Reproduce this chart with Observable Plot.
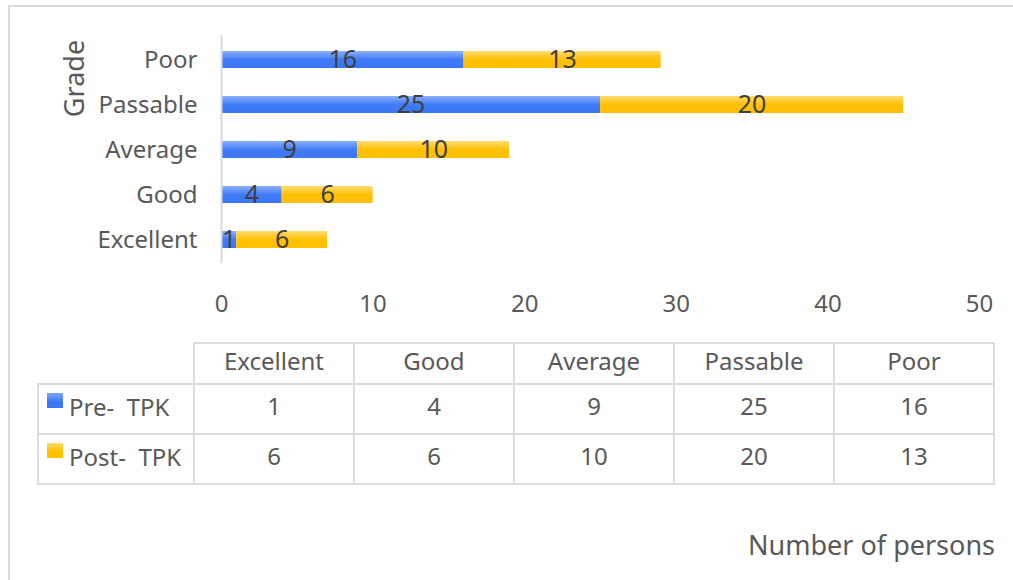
<!DOCTYPE html>
<html>
<head>
<meta charset="utf-8">
<script src="https://cdn.jsdelivr.net/npm/d3@7"></script>
<script src="https://cdn.jsdelivr.net/npm/@observablehq/plot@0.6"></script>
<style>
  html, body { margin: 0; padding: 0; background: #fff; }
  #wrap { position: relative; width: 1013px; height: 580px; overflow: hidden; font-family: "Noto Sans", "Open Sans", sans-serif; color: #595959; }
  #frame { position: absolute; left: 8px; top: 5px; right: -10px; bottom: -10px; border-left: 2px solid #dcdcdc; border-top: 2px solid #dcdcdc; }
  #chart { position: absolute; left: 0; top: 0; }
  table.data { position: absolute; left: 37px; top: 342px; border-collapse: collapse; table-layout: fixed; font-size: 24px; }
  table.data td { border: 2px solid #dddddd; text-align: center; padding: 0 0 6px 0; color: #595959; line-height: 1; }
  table.data tr.head td { height: 33px; }
  table.data tr.row td { height: 42px; }
  table.data td.blank { border-top: none; border-left: none; }
  table.data td.name { text-align: left; white-space: pre; padding-left: 8px; }
  .swatch { display: inline-block; width: 16px; height: 15px; vertical-align: 8px; margin-right: 6px; }
  #caption { position: absolute; right: 18px; top: 526px; font-size: 27px; color: #595959; }
</style>
</head>
<body>
<div id="wrap">
  <div id="frame"></div>
  <div id="chart"></div>
  <table class="data" id="table"></table>
  <div id="caption">Number of persons</div>
</div>
<script>
// Grades, in table order (bottom to top on the chart)
const grades = ["Excellent", "Good", "Average", "Passable", "Poor"];
// Number of persons per grade
const preTPK = [1, 4, 9, 25, 16];
const postTPK = [6, 6, 10, 20, 13];
const seriesNames = ["Pre-  TPK", "Post-  TPK"];
const xTicks = [0, 10, 20, 30, 40, 50];

const seriesValues = [preTPK, postTPK];
const rows = grades.flatMap((g, i) =>
  seriesNames.map((s, k) => ({grade: g, series: s, value: seriesValues[k][i]}))
);

const chart = Plot.plot({
  width: 1013,
  height: 330,
  marginLeft: 221,
  marginRight: 34,
  marginTop: 35,
  marginBottom: 67,
  style: {fontFamily: "'Noto Sans', 'Open Sans', sans-serif", fontSize: "24px", color: "#595959", background: "transparent", overflow: "visible"},
  x: {domain: [0, 50], ticks: xTicks, tickSize: 0, tickPadding: 31, label: null},
  y: {domain: grades.slice().reverse(), paddingInner: 0.63, paddingOuter: 0.315, tickSize: 0, tickPadding: 24, label: null},
  color: {domain: seriesNames, range: ["url(#gradPre)", "url(#gradPost)"]},
  marks: [
    Plot.barX(rows, Plot.stackX({x: "value", y: "grade", fill: "series"})),
    Plot.ruleX([0], {stroke: "#d9d9d9", strokeWidth: 2}),
    Plot.text(rows, Plot.stackX({x: "value", y: "grade", text: "value", fill: "#404040", fontSize: 25})),
    Plot.text(["Grade"], {frameAnchor: "top-left", textAnchor: "middle", lineAnchor: "middle", rotate: -90, dx: -146, dy: 43, fontSize: 27, fill: "#595959"})
  ]
});

// Vertical gradients for the two series
const defs = d3.select(chart).insert("defs", ":first-child");
function grad(id, stops) {
  const g = defs.append("linearGradient").attr("id", id).attr("x1", 0).attr("y1", 0).attr("x2", 0).attr("y2", 1);
  stops.forEach(([o, c]) => g.append("stop").attr("offset", o).attr("stop-color", c));
}
grad("gradPre", [["0%", "#8cb0fa"], ["50%", "#417cf6"], ["100%", "#3a76f5"]]);
grad("gradPost", [["0%", "#ffdc6e"], ["50%", "#ffc107"], ["100%", "#ffbf00"]]);

document.getElementById("chart").appendChild(chart);

// Data table below the chart
const table = d3.select("#table");
const cg = table.append("colgroup");
cg.append("col").style("width", "156px");
grades.forEach(() => cg.append("col").style("width", "160px"));
const head = table.append("tr").attr("class", "head");
head.append("td").attr("class", "blank");
grades.forEach(g => head.append("td").text(g));
seriesNames.forEach((s, k) => {
  const tr = table.append("tr").attr("class", "row");
  const name = tr.append("td").attr("class", "name");
  name.append("span").attr("class", "swatch")
    .style("background", k === 0 ? "linear-gradient(#7fa6f9, #3a76f5 60%)" : "linear-gradient(#ffd966, #ffc000 60%)");
  name.append("span").text(s);
  seriesValues[k].forEach(v => tr.append("td").text(v));
});
</script>
</body>
</html>
